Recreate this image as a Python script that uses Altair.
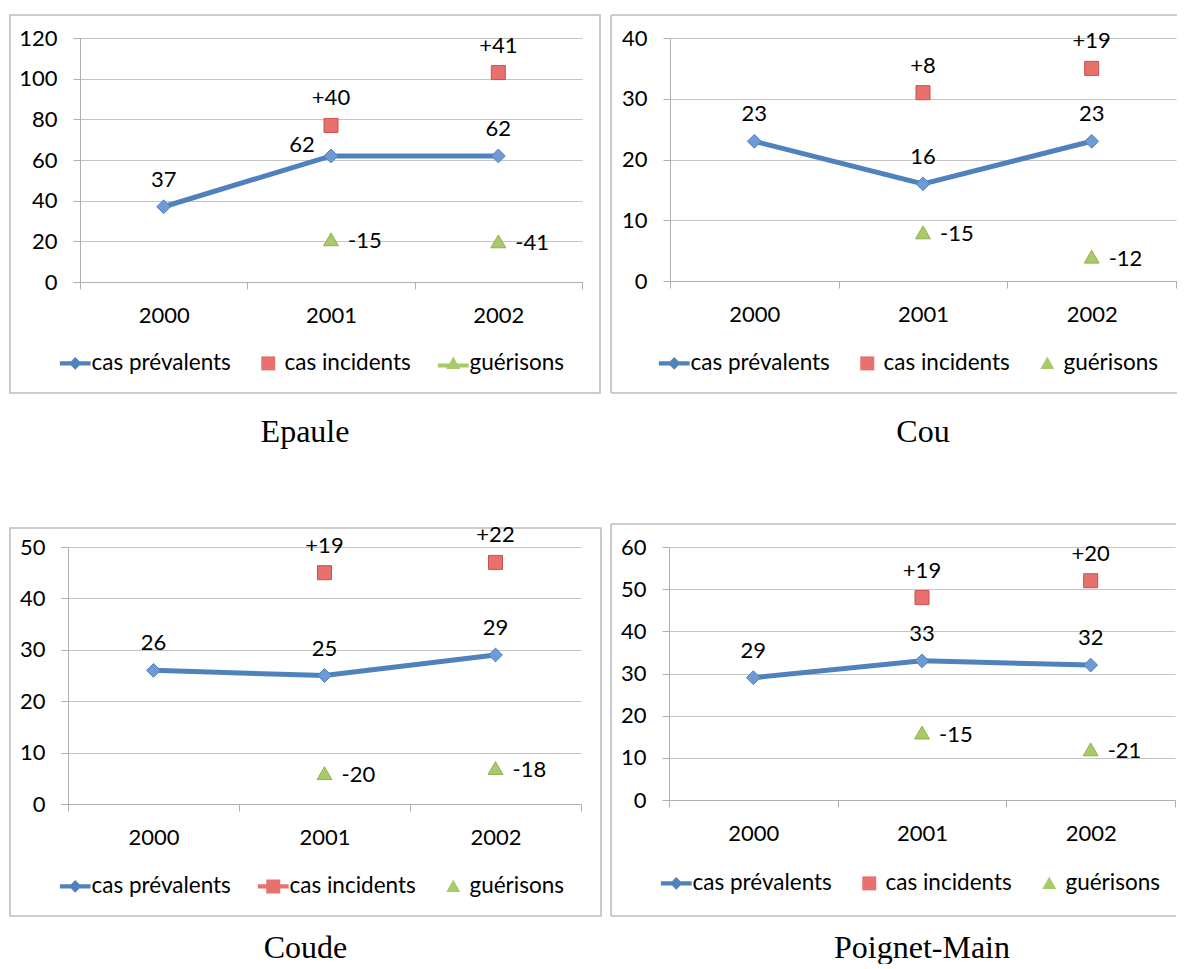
import altair as alt
import pandas as pd

years = ["2000", "2001", "2002"]
series = ["cas prévalents", "cas incidents", "guérisons"]

# Epaule
epaule_prev = [37, 62, 62]
epaule_prev_place = ["above", "left", "above"]
epaule_inc = [None, 77, 103]
epaule_inc_lab = ["", "+40", "+41"]
epaule_gue = [None, 21, 20]
epaule_gue_lab = ["", "-15", "-41"]

# Cou
cou_prev = [23, 16, 23]
cou_prev_place = ["above", "above", "above"]
cou_inc = [None, 31, 35]
cou_inc_lab = ["", "+8", "+19"]
cou_gue = [None, 8, 4]
cou_gue_lab = ["", "-15", "-12"]

# Coude
coude_prev = [26, 25, 29]
coude_prev_place = ["above", "above", "above"]
coude_inc = [None, 45, 47]
coude_inc_lab = ["", "+19", "+22"]
coude_gue = [None, 6, 7]
coude_gue_lab = ["", "-20", "-18"]

# Poignet-Main
poignet_prev = [29, 33, 32]
poignet_prev_place = ["above", "above", "above"]
poignet_inc = [None, 48, 52]
poignet_inc_lab = ["", "+19", "+20"]
poignet_gue = [None, 16, 12]
poignet_gue_lab = ["", "-15", "-21"]

BLUE = "#4F81BD"
DIAMOND_FILL = "#6E9BD6"
RED = "#E8716D"
RED_STROKE = "#C9504C"
GREEN = "#A8CA68"
GREEN_STROKE = "#8DB14C"
GRID = "#C4C4C4"
AXIS = "#AFAFAF"
FRAME = "#BDBDBD"
FONT = "Lato"

# legend symbol paths (unit = half of symbol size)
P_DIAMOND_LINE = ("M-2.2,-0.3 L-0.6,-0.3 L0,-0.9 L0.6,-0.3 L2.2,-0.3 L2.2,0.3 "
                  "L0.6,0.3 L0,0.9 L-0.6,0.3 L-2.2,0.3 Z")
P_SQUARE = "M-1,-1 L1,-1 L1,1 L-1,1 Z"
P_SQUARE_LINE = ("M-2.2,-0.3 L-1,-0.3 L-1,-1 L1,-1 L1,-0.3 L2.2,-0.3 L2.2,0.3 "
                 "L1,0.3 L1,1 L-1,1 L-1,0.3 L-2.2,0.3 Z")
P_TRI = "M0,-1 L1,0.8 L-1,0.8 Z"
P_TRI_LINE = ("M0,-1 L0.556,0 L2.2,0 L2.2,0.6 L0.889,0.6 L1,0.8 L-1,0.8 "
              "L-0.889,0.6 L-2.2,0.6 L-2.2,0 L-0.556,0 Z")


def frame_layers(frame, closed, gap_x):
    fx0, fx1, fy0, fy1 = frame
    one = pd.DataFrame({"f": [0]})
    layers = []
    if closed:
        layers.append(alt.Chart(one).mark_rect(
            fillOpacity=0, stroke=FRAME, strokeWidth=1.6
        ).encode(x=alt.value(fx0), x2=alt.value(fx1), y=alt.value(fy0), y2=alt.value(fy1)))
    else:
        rule = dict(color=FRAME, strokeWidth=1.6)
        layers.append(alt.Chart(one).mark_rule(**rule).encode(
            x=alt.value(fx0), x2=alt.value(fx1), y=alt.value(fy0)))
        layers.append(alt.Chart(one).mark_rule(**rule).encode(
            x=alt.value(fx0), x2=alt.value(fx1), y=alt.value(fy1)))
        layers.append(alt.Chart(one).mark_rule(**rule).encode(
            x=alt.value(fx0), y=alt.value(fy0), y2=alt.value(fy1)))
    if gap_x is not None:
        # white hairline that reserves the gutter between two frames
        layers.append(alt.Chart(one).mark_rule(color="white", strokeWidth=1).encode(
            x=alt.value(gap_x), y=alt.value(fy0), y2=alt.value(fy0 + 1)))
    return layers


def panel(name, prev, prev_place, inc, inc_lab, gue, gue_lab, ymax, ystep,
          w, h, frame, closed, gap_x, legend_xy, legend_paths, title_frame, title_offset):
    rows = []
    for yr, v, pl in zip(years, prev, prev_place):
        rows.append(dict(year=yr, value=v, series=series[0], kind="prev", label=str(v), place=pl))
    for yr, v, lab in zip(years, inc, inc_lab):
        if v is not None:
            rows.append(dict(year=yr, value=v, series=series[1], kind="inc", label=lab, place="above"))
    for yr, v, lab in zip(years, gue, gue_lab):
        if v is not None:
            rows.append(dict(year=yr, value=v, series=series[2], kind="gue", label=lab, place="right"))
    df = pd.DataFrame(rows)
    base = alt.Chart(df)

    x = alt.X("year:N", sort=years,
              scale=alt.Scale(type="band", paddingInner=0, paddingOuter=0),
              axis=alt.Axis(title=None, labelAngle=0, tickBand="extent", grid=False,
                            domainColor=AXIS, tickColor=AXIS, tickSize=7,
                            labelPadding=16, labelFont=FONT, labelFontSize=22,
                            labelColor="black"))
    y = alt.Y("value:Q",
              scale=alt.Scale(domain=[0, ymax], nice=False, zero=True),
              axis=alt.Axis(title=None, values=list(range(0, ymax + 1, ystep)),
                            grid=True, gridColor=GRID, domainColor=AXIS, tickColor=AXIS,
                            tickSize=7, labelPadding=16, labelFont=FONT, labelFontSize=22,
                            labelColor="black"))

    leg = alt.Legend(orient="none", legendX=legend_xy[0], legendY=legend_xy[1],
                     direction="horizontal", title=None, labelFont=FONT,
                     labelFontSize=22.5, labelColor="black", symbolSize=196,
                     symbolOpacity=1, symbolStrokeWidth=0, columnPadding=26,
                     labelOffset=5, labelLimit=400)
    legend_layer = base.mark_point(filled=True, opacity=0).encode(
        x=x, y=y,
        color=alt.Color("series:N", scale=alt.Scale(domain=series, range=[BLUE, RED, GREEN]), legend=leg),
        shape=alt.Shape("series:N", scale=alt.Scale(domain=series, range=legend_paths), legend=leg),
    )

    line = base.transform_filter("datum.kind == 'prev'").mark_line(
        color=BLUE, strokeWidth=5).encode(x=x, y=y)
    diamonds = base.transform_filter("datum.kind == 'prev'").mark_point(
        shape="diamond", filled=True, size=190, fill=DIAMOND_FILL, stroke=BLUE,
        strokeWidth=1, opacity=1).encode(x=x, y=y)
    squares = base.transform_filter("datum.kind == 'inc'").mark_point(
        shape="square", filled=True, size=196, fill=RED, stroke=RED_STROKE,
        strokeWidth=1, opacity=1).encode(x=x, y=y)
    tris = base.transform_filter("datum.kind == 'gue'").mark_point(
        shape="triangle-up", filled=True, size=220, fill=GREEN, stroke=GREEN_STROKE,
        strokeWidth=1, opacity=1).encode(x=x, y=y)

    tkw = dict(font=FONT, fontSize=22, color="black")
    t_above = base.transform_filter("datum.place == 'above'").mark_text(
        baseline="alphabetic", dy=-20, **tkw).encode(x=x, y=y, text="label:N")
    t_left = base.transform_filter("datum.place == 'left'").mark_text(
        baseline="alphabetic", dx=-29, dy=-4, **tkw).encode(x=x, y=y, text="label:N")
    t_right = base.transform_filter("datum.place == 'right'").mark_text(
        baseline="middle", align="left", dx=17, dy=2, **tkw).encode(x=x, y=y, text="label:N")

    layers = frame_layers(frame, closed, gap_x) + [
        legend_layer, line, diamonds, squares, tris, t_above, t_left, t_right]
    return alt.layer(*layers).properties(
        width=w, height=h,
        title=alt.TitleParams(text=name, orient="bottom", font="Liberation Serif",
                              fontSize=32, fontWeight="normal", color="black",
                              anchor="middle", frame=title_frame, offset=title_offset),
    )


def spacer():
    return alt.Chart(pd.DataFrame({"s": []})).mark_point(opacity=0).encode(
        x=alt.value(0), y=alt.value(0)).properties(width=1, height=1)


p1 = panel("Epaule", epaule_prev, epaule_prev_place, epaule_inc, epaule_inc_lab,
           epaule_gue, epaule_gue_lab, 120, 20, 502, 244,
           (-70, 520, -23, 355), True, None, (-16, 314),
           [P_DIAMOND_LINE, P_SQUARE, P_TRI_LINE], "bounds", 23)
p2 = panel("Cou", cou_prev, cou_prev_place, cou_inc, cou_inc_lab,
           cou_gue, cou_gue_lab, 40, 10, 506, 243,
           (-59, 507, -23, 355), False, -68.5, (-7, 314),
           [P_DIAMOND_LINE, P_SQUARE, P_TRI], "group", 23)
p3 = panel("Coude", coude_prev, coude_prev_place, coude_inc, coude_inc_lab,
           coude_gue, coude_gue_lab, 50, 10, 513, 257,
           (-58, 533, -19, 369), True, None, (-4, 328),
           [P_DIAMOND_LINE, P_SQUARE_LINE, P_TRI], "bounds", 16)
p4 = panel("Poignet-Main", poignet_prev, poignet_prev_place, poignet_inc, poignet_inc_lab,
           poignet_gue, poignet_gue_lab, 60, 10, 506, 253,
           (-58, 507, -23, 369), False, -66, (-4, 325),
           [P_DIAMOND_LINE, P_SQUARE, P_TRI], "group", 16)


def row(a, b):
    return alt.hconcat(spacer(), a, b, spacing=0).resolve_scale(
        x="independent", y="independent", color="independent", shape="independent"
    ).resolve_legend(color="independent", shape="independent")


chart = alt.vconcat(row(p1, p2), row(p3, p4), spacing=75).resolve_scale(
    x="independent", y="independent", color="independent", shape="independent"
).resolve_legend(color="independent", shape="independent").properties(
    padding={"left": 0, "top": 6, "right": 0, "bottom": 0}
).configure_view(stroke=None)

chart.save("out.html", embed_options={"renderer": "svg", "actions": False})
